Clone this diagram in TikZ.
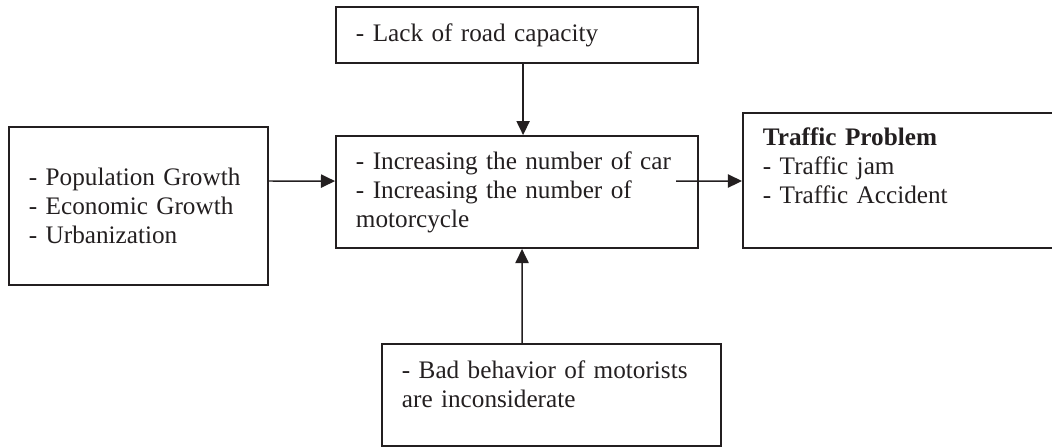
\documentclass[tikz,border=0pt]{standalone}
\usepackage{fontspec}
\setmainfont{Liberation Serif}
\usetikzlibrary{arrows.meta}
\definecolor{ink}{RGB}{35,31,32}

\begin{document}
\begin{tikzpicture}[x=0.476pt, y=-0.476pt,
        box/.style={draw=ink, line width=0.9pt, text=ink, align=left, inner xsep=9.5pt,
            font=\fontsize{12}{13.8}\selectfont},
        flow/.style={draw=ink, line width=0.7pt, -{Triangle[length=6.7pt, width=6.3pt]}}]
        % Tamanho da figura
        \useasboundingbox (0,0) rectangle (1052,447);

        % Caixas
        \node[box, text width=104.3pt, minimum height=75.2pt] (causes) at (138.5,206)
            {- Population Growth\\- Economic Growth\\- Urbanization};
        \node[box, text width=153.3pt, minimum height=26.7pt] (capacity) at (517,35)
            {- Lack of road capacity};
        \node[box, text width=153.3pt, minimum height=53.3pt] (vehicles) at (517,192)
            {- Increasing the number of car\\- Increasing the number of\\motorcycle};
        \node[box, text width=136.7pt, minimum height=64.3pt] (problem) at (906.5,180.5)
            {\textbf{Traffic Problem}\\- Traffic jam\\- Traffic Accident\par\vspace{14.3pt}};
        \node[box, text width=142.4pt, minimum height=48.6pt] (behavior) at (551.5,395)
            {- Bad behavior of motorists\\are inconsiderate\par\vspace{10.5pt}};

        % Setas
        \draw[flow] ([yshift=11.9pt]causes.east) -- ([yshift=5.2pt]vehicles.west);
        \draw[flow] ([xshift=2.9pt]capacity.south) -- ([xshift=2.9pt]vehicles.north);
        \draw[flow] ([xshift=-14pt]behavior.north) -- ([xshift=2.4pt]vehicles.south);
        \draw[flow] ([xshift=-10.9pt, yshift=5.2pt]vehicles.east) -- ([yshift=0pt]problem.west |- 0,181);
    \end{tikzpicture}
\end{document}
